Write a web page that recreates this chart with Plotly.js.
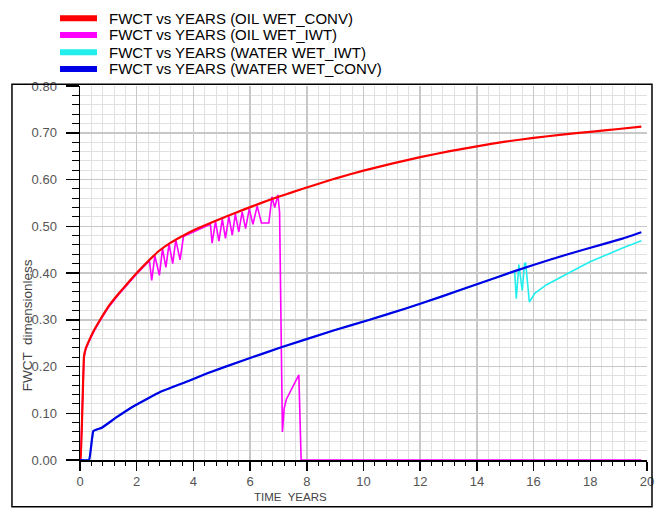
<!DOCTYPE html>
<html>
<head>
<meta charset="utf-8">
<script src="https://cdn.plot.ly/plotly-3.0.1.min.js"></script>
<style>
  html, body { margin: 0; padding: 0; background: #ffffff; }
  #chart { width: 656px; height: 508px; }
</style>
</head>
<body>
<div id="chart"></div>
<script>
// ---- Data ----
const seriesNames = [
  "FWCT vs YEARS (OIL WET_CONV)",
  "FWCT vs YEARS (OIL WET_IWT)",
  "FWCT vs YEARS (WATER WET_IWT)",
  "FWCT vs YEARS (WATER WET_CONV)"
];
const seriesColors = ["#ff0000", "#ff00ff", "#22eeee", "#0000e6"];

const oilConvYears = [0, 0.02, 0.14, 0.2, 0.33, 0.5, 0.71, 1.0, 1.35, 1.65, 2.0, 2.4, 2.76, 3.2, 3.7, 4.1, 4.6, 5.2, 5.75, 6.4, 7.0, 7.5, 8.0, 9.0, 10.0, 11.0, 12.0, 13.0, 14.0, 15.0, 16.0, 17.0, 18.0, 19.0, 19.8];
const oilConvFwct  = [0, 0, 0.221, 0.238, 0.257, 0.278, 0.300, 0.328, 0.355, 0.376, 0.400, 0.425, 0.446, 0.465, 0.482, 0.494, 0.507, 0.522, 0.535, 0.550, 0.563, 0.573, 0.583, 0.602, 0.619, 0.634, 0.648, 0.660, 0.671, 0.681, 0.689, 0.696, 0.702, 0.708, 0.713];

const oilIwtYears = [0, 0.02, 0.14, 0.2, 0.33, 0.5, 0.71, 1.0, 1.35, 1.65, 2.0, 2.4,
  2.45, 2.53, 2.64, 2.8, 2.91, 3.03, 3.14, 3.27, 3.38, 3.53, 3.65, 3.72,
  4.1, 4.6,
  4.66, 4.78, 4.9, 5.02, 5.13, 5.25, 5.37, 5.48, 5.6, 5.72, 5.84, 5.97, 6.1, 6.25, 6.4, 6.66, 6.77, 6.87, 6.98,
  7.04, 7.14, 7.2, 7.28, 7.72, 7.8, 19.8];
const oilIwtFwct = [0, 0, 0.219, 0.236, 0.255, 0.276, 0.298, 0.326, 0.353, 0.374, 0.398, 0.423,
  0.426, 0.384, 0.437, 0.395, 0.452, 0.412, 0.462, 0.42, 0.471, 0.428, 0.478, 0.480,
  0.491, 0.504,
  0.464, 0.51, 0.468, 0.515, 0.474, 0.521, 0.481, 0.526, 0.488, 0.531, 0.495, 0.537, 0.504, 0.543, 0.507, 0.507, 0.563, 0.54, 0.567,
  0.53, 0.06, 0.11, 0.13, 0.182, 0, 0];

const waterIwtYears = [0, 0.32, 0.47, 0.77, 1.28, 1.92, 2.81, 3.83, 4.47, 5.75, 7.1, 8.94, 10.22, 11.49, 12.77, 14.05, 15.33,
  15.39, 15.48, 15.6, 15.68, 15.72, 15.85, 16.05, 16.46, 17.17, 17.99, 19.16, 19.8];
const waterIwtFwct = [0, 0, 0.062, 0.069, 0.091, 0.116, 0.145, 0.169, 0.185, 0.213, 0.241, 0.277, 0.300, 0.324, 0.350, 0.377, 0.404,
  0.345, 0.418, 0.362, 0.42, 0.422, 0.338, 0.357, 0.375, 0.398, 0.424, 0.454, 0.469];

const waterConvYears = [0, 0.32, 0.47, 0.77, 1.28, 1.92, 2.81, 3.83, 4.47, 5.75, 7.1, 8.94, 10.22, 11.49, 12.77, 14.05, 15.33, 16.6, 17.88, 19.16, 19.8];
const waterConvFwct  = [0, 0, 0.062, 0.069, 0.091, 0.116, 0.145, 0.169, 0.185, 0.213, 0.241, 0.277, 0.300, 0.324, 0.350, 0.377, 0.404, 0.429, 0.452, 0.474, 0.487];

const xTitle = "TIME  YEARS";
const yTitle = "FWCT  dimensionless";

// ---- Traces (drawing order: magenta, cyan, red, blue) ----
const dataTraces = [
  {x: oilIwtYears, y: oilIwtFwct, color: seriesColors[1], w: 1.6, shape: "linear"},
  {x: waterIwtYears, y: waterIwtFwct, color: seriesColors[2], w: 1.6, shape: "linear"},
  {x: oilConvYears, y: oilConvFwct, color: seriesColors[0], w: 2.2, shape: "spline"},
  {x: waterConvYears, y: waterConvFwct, color: seriesColors[3], w: 2.2, shape: "spline"}
].map(s => ({
  type: "scatter", mode: "lines", x: s.x, y: s.y, cliponaxis: false,
  line: {color: s.color, width: s.w, shape: s.shape, smoothing: 0.3},
  showlegend: false, hoverinfo: "skip"
}));

// ---- Legend drawn above the frame (layout only) ----
const legendRowsY = [1.181, 1.1364, 1.0901, 1.0455];
const legendShapes = seriesNames.map((n, i) => ({
  type: "line", xref: "paper", yref: "paper",
  x0: -0.0353, x1: 0.03, y0: legendRowsY[i], y1: legendRowsY[i],
  line: {color: seriesColors[i], width: 6}
}));
const legendTexts = seriesNames.map((n, i) => ({
  text: n, xref: "paper", yref: "paper", x: 0.0494, y: legendRowsY[i],
  xanchor: "left", yanchor: "middle", showarrow: false, borderpad: 0,
  font: {family: "Liberation Sans, Arial, sans-serif", size: 15, color: "#000000"}
}));

const gridMajor = "#c8c8c8";
const gridMinor = "#e0e0e0";
const tickFont = {family: "Liberation Sans, Arial, sans-serif", size: 13, color: "#555555"};

const layout = {
  width: 656, height: 508,
  paper_bgcolor: "#ffffff", plot_bgcolor: "#ffffff",
  margin: {l: 80, r: 9, t: 86, b: 48},
  showlegend: false,
  xaxis: {
    range: [0, 20], tick0: 0, dtick: 2, tickmode: "linear", layer: "below traces",
    showline: true, linecolor: "#000000", linewidth: 1.5,
    ticks: "outside", ticklen: 9, tickwidth: 1.5, tickcolor: "#000000",
    showgrid: true, gridcolor: gridMajor, gridwidth: 1.5,
    zeroline: false, tickfont: tickFont,
    minor: {dtick: 0.4, tick0: 0, ticks: "outside", ticklen: 4, tickwidth: 1, tickcolor: "#000000",
            showgrid: true, gridcolor: gridMinor, gridwidth: 1}
  },
  yaxis: {
    range: [0, 0.8], tick0: 0, dtick: 0.1, tickmode: "linear", tickformat: ".2f", layer: "below traces",
    showline: true, linecolor: "#000000", linewidth: 1.5,
    ticks: "outside", ticklen: 13, tickwidth: 1.5, tickcolor: "#000000",
    showgrid: true, gridcolor: gridMajor, gridwidth: 1.5,
    zeroline: false, tickfont: tickFont, ticklabelstandoff: 6,
    minor: {dtick: 0.02, tick0: 0, ticks: "outside", ticklen: 7, tickwidth: 1, tickcolor: "#000000",
            showgrid: true, gridcolor: gridMinor, gridwidth: 1}
  },
  shapes: [
    {type: "rect", xref: "paper", yref: "paper",
     x0: -0.12, x1: 1.0088, y0: -0.125, y1: 1.005,
     line: {color: "#000000", width: 1.5}, fillcolor: "rgba(0,0,0,0)", layer: "above"}
  ].concat(legendShapes),
  annotations: [
    {text: xTitle, xref: "paper", yref: "paper", x: 0.372, y: -0.1, xanchor: "center", yanchor: "middle",
     showarrow: false, font: {family: "Liberation Sans, Arial, sans-serif", size: 11.5, color: "#444444"}},
    {text: yTitle, xref: "paper", yref: "paper", x: -0.092, y: 0.36, xanchor: "center", yanchor: "middle",
     textangle: -90, showarrow: false, font: {family: "Liberation Sans, Arial, sans-serif", size: 13.5, color: "#444444"}}
  ].concat(legendTexts)
};

Plotly.newPlot("chart", dataTraces, layout, {displayModeBar: false, staticPlot: true});
</script>
</body>
</html>
